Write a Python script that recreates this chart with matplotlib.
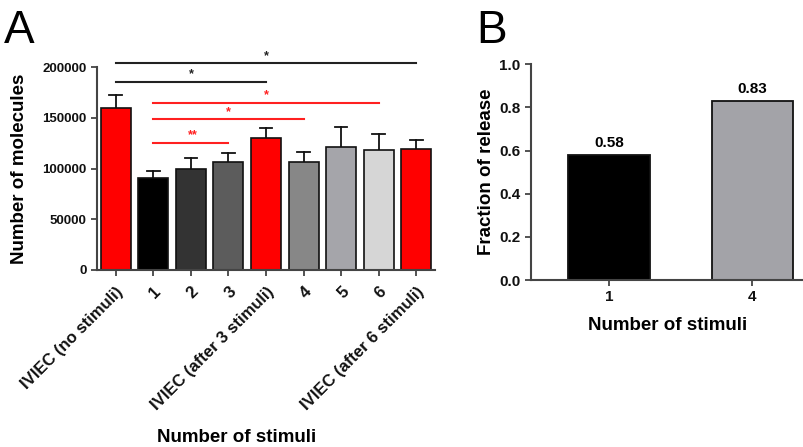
import matplotlib
matplotlib.use("Agg")
import matplotlib.pyplot as plt
import numpy as np

plt.rcParams['font.family'] = ['Liberation Sans', 'DejaVu Sans']
plt.rcParams['font.weight'] = 'bold'

# ---- Panel A data ----
cats_a = ["IVIEC (no stimuli)", "1", "2", "3", "IVIEC (after 3 stimuli)",
          "4", "5", "6", "IVIEC (after 6 stimuli)"]
means_a = [160000, 91000, 100000, 106000, 130000, 106000, 121000, 118000, 119000]
errs_a = [12000, 6500, 10000, 9000, 9500, 10500, 20000, 15500, 9000]
colors_a = ["#ff0000", "#000000", "#333333", "#5c5c5c", "#ff0000",
            "#878787", "#a5a5aa", "#d6d6d6", "#ff0000"]
# significance brackets: (start index, end index, y, label, colour, star x index)
sig_start = [0, 0, 1, 1, 1]
sig_end = [8, 4, 7, 5, 3]
sig_y = [203500, 185500, 164500, 148500, 125500]
sig_label = ["*", "*", "*", "*", "**"]
sig_color = ["#222222", "#222222", "#ff2020", "#ff2020", "#ff2020"]
sig_star_x = [4.0, 2.0, 4.0, 3.0, 2.05]

# ---- Panel B data ----
cats_b = ["1", "4"]
vals_b = [0.58, 0.83]
colors_b = ["#000000", "#a3a3a8"]

W, H = 804, 447
fig = plt.figure(figsize=(W / 100, H / 100), dpi=100)

spine_c = "#444444"

# Panel A axes
axA = fig.add_axes([97 / W, 1 - 270 / H, 338 / W, 203 / H])
x = np.arange(len(cats_a))
axA.bar(x, means_a, width=0.8, color=colors_a, edgecolor="#111111", linewidth=1.2, zorder=2)
for xi, m, e in zip(x, means_a, errs_a):
    axA.plot([xi, xi], [m, m + e], color="#111111", lw=1.3, zorder=1)
    axA.plot([xi - 0.17, xi + 0.17], [m + e, m + e], color="#111111", lw=1.3, zorder=1)
axA.set_xlim(-0.5, 8.5)
axA.set_ylim(0, 200000)
axA.set_yticks([0, 50000, 100000, 150000, 200000])
axA.set_yticklabels(["0", "50000", "100000", "150000", "200000"], fontsize=9.5, fontweight='bold')
axA.set_xticks(x)
axA.set_xticklabels(cats_a, rotation=45, ha='right', rotation_mode='anchor',
                    fontsize=12, fontweight='bold')
axA.set_ylabel("Number of molecules", fontsize=13.5, fontweight='bold', labelpad=10)
for s in ["top", "right"]:
    axA.spines[s].set_visible(False)
for s in ["left", "bottom"]:
    axA.spines[s].set_color(spine_c)
    axA.spines[s].set_linewidth(1.5)
axA.tick_params(axis='both', colors=spine_c, width=1.3, length=4, labelcolor="#111111")
axA.tick_params(axis='x', pad=6)

for s0, s1, yy, lab, c, sx in zip(sig_start, sig_end, sig_y, sig_label, sig_color, sig_star_x):
    axA.plot([s0, s1], [yy, yy], color=c, lw=1.5, clip_on=False, zorder=3)
    axA.text(sx, yy + 1500, lab, color=c, ha='center', va='bottom', fontsize=9,
             fontweight='bold', clip_on=False)

fig.text(237 / W, 1 - 437 / H, "Number of stimuli", ha='center', va='center',
         fontsize=13.5, fontweight='bold')
fig.text(4 / W, 1 - 43 / H, "A", ha='left', va='baseline', fontsize=33, fontweight='normal')

# Panel B axes
axB = fig.add_axes([531 / W, 1 - 280 / H, (804 - 531) / W, 215.7 / H])
xb = np.arange(len(cats_b))
bars = axB.bar(xb, vals_b, width=0.57, color=colors_b, edgecolor="#111111", linewidth=1.3)
axB.set_xlim(-0.545, 1.36)
axB.set_ylim(0, 1.0)
axB.set_yticks(np.arange(0, 1.01, 0.2))
axB.set_yticklabels([f"{v:.1f}" for v in np.arange(0, 1.01, 0.2)], fontsize=11, fontweight='bold')
axB.set_xticks(xb)
axB.set_xticklabels(cats_b, fontsize=11, fontweight='bold')
for xi, v in zip(xb, vals_b):
    axB.text(xi, v + 0.025, f"{v:.2f}", ha='center', va='bottom', fontsize=11, fontweight='bold')
axB.set_ylabel("Fraction of release", fontsize=13.5, fontweight='bold', labelpad=3)
axB.set_xlabel("Number of stimuli", fontsize=13.5, fontweight='bold', labelpad=9)
for s in ["top", "right"]:
    axB.spines[s].set_visible(False)
for s in ["left", "bottom"]:
    axB.spines[s].set_color(spine_c)
    axB.spines[s].set_linewidth(1.5)
axB.tick_params(axis='both', colors=spine_c, width=1.3, length=4, labelcolor="#111111")
fig.text(476 / W, 1 - 43 / H, "B", ha='left', va='baseline', fontsize=33, fontweight='normal')

fig.savefig("out.png", dpi=100)
